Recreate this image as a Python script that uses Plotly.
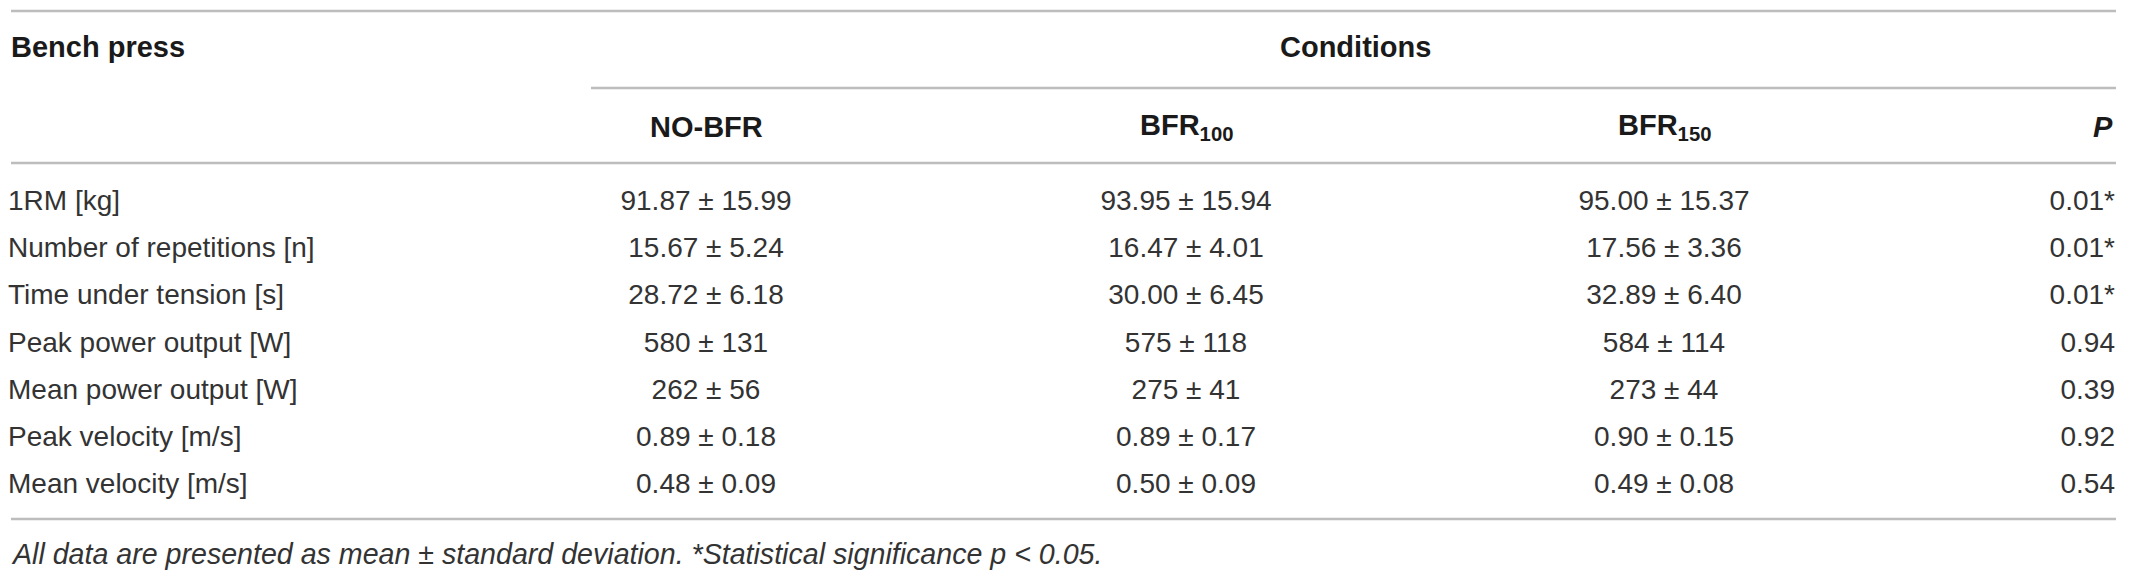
import plotly.graph_objects as go

# table data
measures = ["1RM [kg]", "Number of repetitions [n]", "Time under tension [s]",
            "Peak power output [W]", "Mean power output [W]", "Peak velocity [m/s]",
            "Mean velocity [m/s]"]
decimals = [2, 2, 2, 0, 0, 2, 2]

no_bfr_mean = [91.87, 15.67, 28.72, 580, 262, 0.89, 0.48]
no_bfr_sd = [15.99, 5.24, 6.18, 131, 56, 0.18, 0.09]
bfr100_mean = [93.95, 16.47, 30.00, 575, 275, 0.89, 0.50]
bfr100_sd = [15.94, 4.01, 6.45, 118, 41, 0.17, 0.09]
bfr150_mean = [95.00, 17.56, 32.89, 584, 273, 0.90, 0.49]
bfr150_sd = [15.37, 3.36, 6.40, 114, 44, 0.15, 0.08]
p_values = [0.01, 0.01, 0.01, 0.94, 0.39, 0.92, 0.54]

col_headers = ["NO-BFR", "BFR<sub>100</sub>", "BFR<sub>150</sub>"]
footnote = "All data are presented as mean ± standard deviation. *Statistical significance p < 0.05."

W, H = 2130, 573
FONT = "Liberation Sans, Arial, sans-serif"
TXT = "#333333"
LINE = "#bdbdbd"
FS = 28
FS_BOLD = 29

# layout in pixels
left, right = 11, 2116
col_x = [706, 1186, 1664]
p_x = 2112
row_y0, row_h = 203, 47.2
row_y = [row_y0 + i * row_h for i in range(len(measures))]


def fmt(m, s, d):
    return f"{m:.{d}f} ± {s:.{d}f}"


def cells(means, sds):
    return [fmt(m, s, d) for m, s, d in zip(means, sds, decimals)]


fig = go.Figure()

text_font = dict(family=FONT, size=FS, color=TXT)

# row labels
fig.add_trace(go.Scatter(x=[left - 3] * len(measures), y=row_y, text=measures,
                         mode="text", textposition="middle right", textfont=text_font))

# condition columns
for cx, means, sds in zip(col_x, [no_bfr_mean, bfr100_mean, bfr150_mean],
                          [no_bfr_sd, bfr100_sd, bfr150_sd]):
    fig.add_trace(go.Scatter(x=[cx] * len(measures), y=row_y, text=cells(means, sds),
                             mode="text", textposition="middle center", textfont=text_font))

# p column
p_text = [f"{p:.2f}" + ("*" if p < 0.05 else "") for p in p_values]
fig.add_trace(go.Scatter(x=[p_x + 3] * len(p_values), y=row_y, text=p_text,
                         mode="text", textposition="middle left", textfont=text_font))

# headers
bold = dict(family=FONT, size=FS_BOLD, color="#1a1a1a")
fig.add_annotation(x=left - 2, y=47, text="<b>Bench press</b>", showarrow=False,
                   xanchor="left", yanchor="middle", font=bold)
fig.add_annotation(x=1355, y=47, text="<b>Conditions</b>", showarrow=False,
                   xanchor="center", yanchor="middle", font=bold)
for cx, h in zip(col_x, col_headers):
    fig.add_annotation(x=cx, y=127, text=f"<b>{h}</b>", showarrow=False,
                       xanchor="center", yanchor="middle", font=bold)
fig.add_annotation(x=p_x + 3, y=127, text="<b><i>P</i></b>", showarrow=False,
                   xanchor="right", yanchor="middle", font=bold)

# footnote
fig.add_annotation(x=left - 2, y=554, text=f"<i>{footnote}</i>", showarrow=False,
                   xanchor="left", yanchor="middle",
                   font=dict(family=FONT, size=28.6, color=TXT))

# rules
for x0, y in [(left, 11), (591, 88), (left, 163), (left, 519)]:
    fig.add_shape(type="line", x0=x0, x1=right, y0=y, y1=y,
                  line=dict(color=LINE, width=2.5), layer="below")

fig.update_xaxes(range=[0, W], visible=False, fixedrange=True)
fig.update_yaxes(range=[H, 0], visible=False, fixedrange=True)
fig.update_layout(width=W, height=H, margin=dict(l=0, r=0, t=0, b=0),
                  plot_bgcolor="white", paper_bgcolor="white", showlegend=False)

fig.write_html("out.html", config={"displayModeBar": False},
               post_script="document.body.style.margin='0';")
